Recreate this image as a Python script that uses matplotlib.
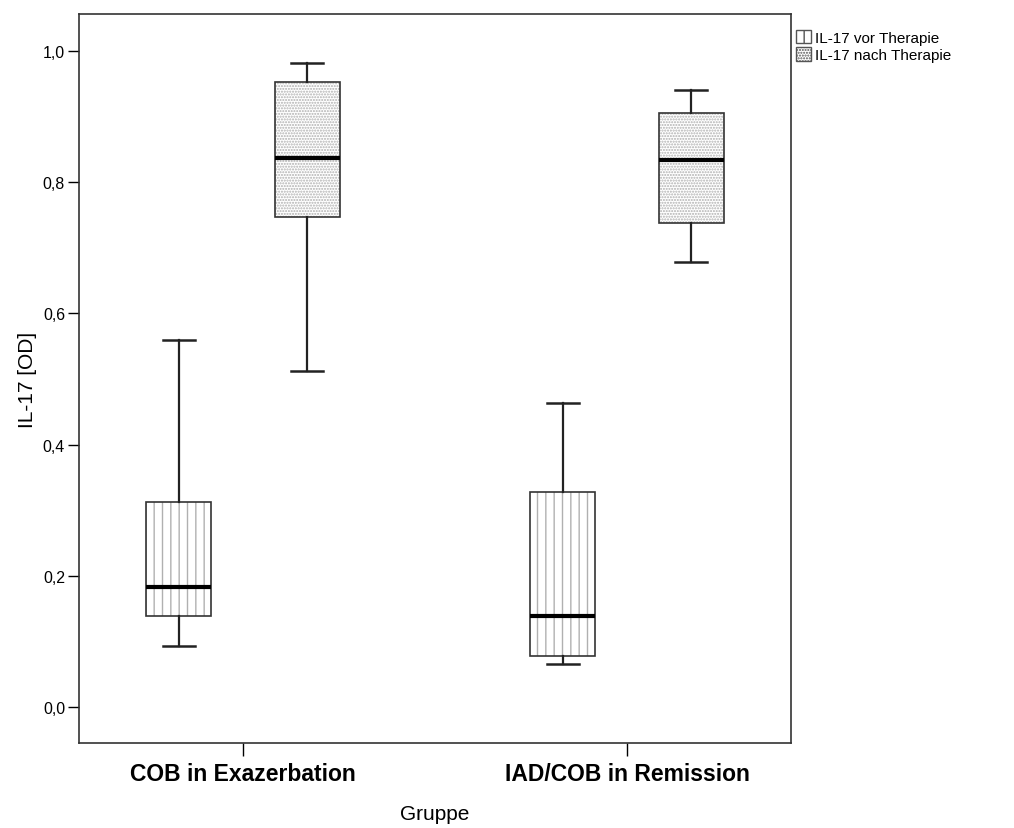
import matplotlib
matplotlib.use("Agg")
import matplotlib.pyplot as plt
from matplotlib.patches import Patch

plt.rcParams['font.family'] = ['Liberation Sans', 'DejaVu Sans']
plt.rcParams['hatch.linewidth'] = 1.0

# Gruppen und Reihen
gruppen = ['COB in Exazerbation', 'IAD/COB in Remission']
reihen = ['IL-17 vor Therapie', 'IL-17 nach Therapie']

# Box-Kennwerte je Reihe (je Gruppe ein Wert)
vor_whislo = [0.093, 0.066]
vor_q1 = [0.139, 0.077]
vor_med = [0.183, 0.139]
vor_q3 = [0.313, 0.327]
vor_whishi = [0.560, 0.463]

nach_whislo = [0.512, 0.679]
nach_q1 = [0.747, 0.738]
nach_med = [0.837, 0.834]
nach_q3 = [0.952, 0.905]
nach_whishi = [0.982, 0.940]

hatches = ['||', '......']
offset = 0.167
breite = 0.169


def stats(lo, q1, med, q3, hi):
    return [dict(whislo=lo[i], q1=q1[i], med=med[i], q3=q3[i], whishi=hi[i], fliers=[])
            for i in range(len(med))]


alle = [stats(vor_whislo, vor_q1, vor_med, vor_q3, vor_whishi),
        stats(nach_whislo, nach_q1, nach_med, nach_q3, nach_whishi)]

fig = plt.figure(figsize=(10.14, 8.29), dpi=100)
ax = fig.add_axes([0.0779, 0.1025, 0.7022, 0.8794])

for k, st in enumerate(alle):
    pos = [g + (k - 0.5) * 2 * offset for g in range(len(gruppen))]
    # Schraffur (grau)
    b1 = ax.bxp(st, positions=pos, widths=breite, patch_artist=True, showfliers=False,
                showcaps=False, boxprops=dict(facecolor='white', edgecolor='#b0b0b0', linewidth=0),
                whiskerprops=dict(linewidth=0), medianprops=dict(linewidth=0), manage_ticks=False)
    for p in b1['boxes']:
        p.set_hatch(hatches[k])
    # Umriss, Median, Whisker
    ax.bxp(st, positions=pos, widths=breite, patch_artist=True, showfliers=False,
           capwidths=breite * 0.5,
           boxprops=dict(facecolor='none', edgecolor='#333333', linewidth=1.2),
           whiskerprops=dict(color='#222222', linewidth=1.6),
           capprops=dict(color='#222222', linewidth=1.8),
           medianprops=dict(color='black', linewidth=3),
           manage_ticks=False)

ax.set_xlim(-0.427, 1.427)
ax.set_ylim(-0.0549, 1.0564)
ax.set_xticks(range(len(gruppen)))
ax.set_xticklabels(gruppen, fontsize=16.5, fontweight='bold')
yt = [0.0, 0.2, 0.4, 0.6, 0.8, 1.0]
ax.set_yticks(yt)
ax.set_yticklabels([f'{v:.1f}'.replace('.', ',') for v in yt], fontsize=11.5)
ax.tick_params(axis='y', length=8, width=1, pad=2)
ax.tick_params(axis='x', length=9, width=1, pad=5)
for s in ax.spines.values():
    s.set_linewidth(1.2)
    s.set_color('#333333')

ax.set_ylabel('IL-17 [OD]', fontsize=15, labelpad=4)
ax.set_xlabel('Gruppe', fontsize=15, labelpad=13)

handles = [Patch(facecolor='white', edgecolor='#555555', hatch=hatches[i], label=reihen[i])
           for i in range(len(reihen))]
ax.legend(handles=handles, loc='upper left', bbox_to_anchor=(1.0, 0.985), frameon=False,
          borderaxespad=0.1, handlelength=1.0, handleheight=1.0, handletextpad=0.25,
          labelspacing=0.15, fontsize=11, borderpad=0.2)

fig.savefig('out.png', dpi=100)
